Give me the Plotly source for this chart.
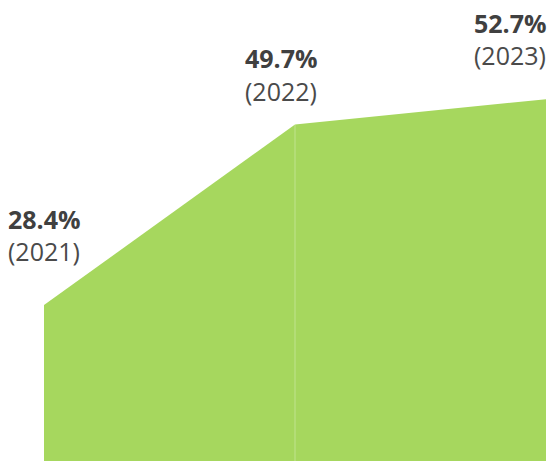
import plotly.graph_objects as go

years = ["2021", "2022", "2023"]
values = [28.4, 49.7, 52.7]
labels = ["28.4%", "49.7%", "52.7%"]

green = "#A6D75E"
fig = go.Figure()
xs = list(range(len(years)))
# two adjacent area segments
for i in range(len(xs) - 1):
    fig.add_trace(go.Scatter(
        x=[xs[i], xs[i + 1]], y=[values[i], values[i + 1]],
        mode="lines", fill="tozeroy", fillcolor=green,
        line=dict(width=0, color=green), hoverinfo="skip", showlegend=False))

# faint seam between the two segments
fig.add_shape(type="line", x0=xs[1], x1=xs[1], y0=0, y1=values[1],
              line=dict(color="rgba(255,255,255,0.3)", width=1))

# label offsets (pixels) for each point
xshifts = [0, -14, -36]
val_dy = [86, 67, 76]
yr_dy = [54, 34, 44]
for i in range(len(xs)):
    fig.add_annotation(x=xs[i], y=values[i], text="<b>" + labels[i] + "</b>",
                       showarrow=False, xanchor="center", yanchor="middle",
                       xshift=xshifts[i], yshift=val_dy[i],
                       font=dict(family="Open Sans", size=25, color="#404040"))
    fig.add_annotation(x=xs[i], y=values[i], text="(" + years[i] + ")",
                       showarrow=False, xanchor="center", yanchor="middle",
                       xshift=xshifts[i], yshift=yr_dy[i],
                       font=dict(family="Open Sans", size=25, color="#4a4a4a"))

fig.update_layout(
    width=549, height=461,
    margin=dict(l=44, r=3, t=0, b=0),
    paper_bgcolor="white", plot_bgcolor="white",
    xaxis=dict(range=[0, 2], visible=False, fixedrange=True),
    yaxis=dict(range=[10, 64.4], visible=False, fixedrange=True),
)
fig.write_html("out.html", config={"displayModeBar": False},
               post_script="document.body.style.margin='0';")
